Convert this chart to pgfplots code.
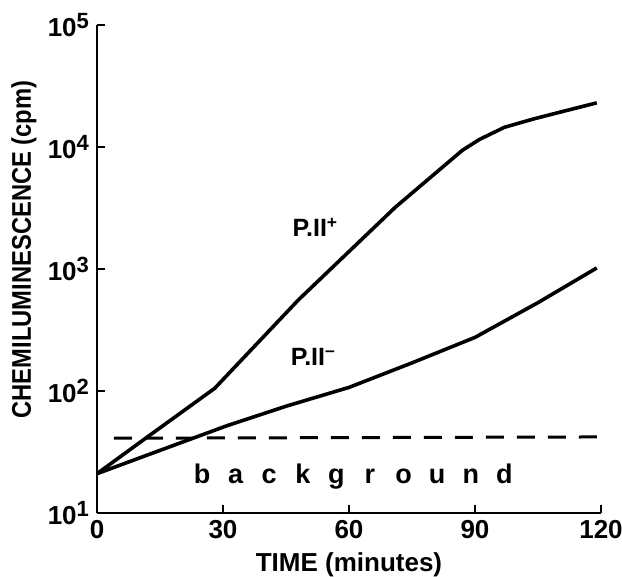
\documentclass[border=0pt]{standalone}
\usepackage{pgfplots}
\pgfplotsset{compat=1.18}
\usepackage{fontspec}
\setmainfont{Liberation Sans}
\newcommand{\tl}[1]{10\textsuperscript{\fontsize{11}{12}\selectfont\bfseries #1}}
\begin{document}
\begin{tikzpicture}
\begin{axis}[
  name=ax,
  scale only axis,
  width=252pt, height=244pt,
  ymode=log,
  xmin=0, xmax=120, ymin=10, ymax=100000,
  axis x line*=bottom, axis y line*=left,
  axis line style={line width=1.4pt},
  xtick={30,60,90,120},
  extra x ticks={0}, extra x tick style={major tick length=0pt},
  ytick={10,100,1000,10000,100000},
  yticklabels={\tl{1},\tl{2},\tl{3},\tl{4},\tl{5}},
  yminorticks=false,
  tick align=inside, major tick length=4pt,
  tick style={line width=1.2pt, black},
  ticklabel style={font=\bfseries\fontsize{13}{14}\selectfont},
  /pgf/number format/assume math mode=true,
  xlabel={\bfseries\fontsize{13}{14}\selectfont TIME (minutes)},
  ylabel={\scalebox{0.88}[1]{\bfseries\fontsize{13.5}{14}\selectfont CHEMILUMINESCENCE (cpm)}},
  xlabel style={at={(axis description cs:0.5,-0.107)}, anchor=center},
  ylabel style={at={(axis description cs:-0.145,0.54)}, anchor=center},
  clip=false,
]
% P.II+
\addplot[black, line width=1.8pt] coordinates {
(0,21) (12,42) (28,105) (48,560) (71,3200) (87,9400) (91,11500) (97,14500) (104,17000) (112,20000) (119,23000)
};
% P.II-
\addplot[black, line width=1.8pt] coordinates {
(0,21) (11,29) (22,40) (31,52) (45,75) (60,107) (75,170) (90,275) (105,530) (119,1020)
};
% background
\addplot[black, line width=1.5pt, dash pattern=on 9pt off 6.5pt] coordinates {
(4,41) (119,42)
};
\node[font=\bfseries\fontsize{12.5}{13}\selectfont] at (axis cs:52,2190) {P.II\textsuperscript{+}};
\node[font=\bfseries\fontsize{12.5}{13}\selectfont] at (axis cs:51.5,191) {P.II\textsuperscript{--}};
\node[font=\bfseries\fontsize{13.5}{14}\selectfont] at (axis cs:61,20) {\makebox[16.8pt]{b}\makebox[16.8pt]{a}\makebox[16.8pt]{c}\makebox[16.8pt]{k}\makebox[16.8pt]{g}\makebox[16.8pt]{r}\makebox[16.8pt]{o}\makebox[16.8pt]{u}\makebox[16.8pt]{n}\makebox[16.8pt]{d}};
\coordinate (bl) at ([xshift=-48.5pt,yshift=-32pt]rel axis cs:0,0);
\coordinate (tr) at ([xshift=10.5pt,yshift=12.5pt]rel axis cs:1,1);
\end{axis}
\pgfresetboundingbox
\path[use as bounding box] (bl) rectangle (tr);
\end{tikzpicture}
\end{document}
